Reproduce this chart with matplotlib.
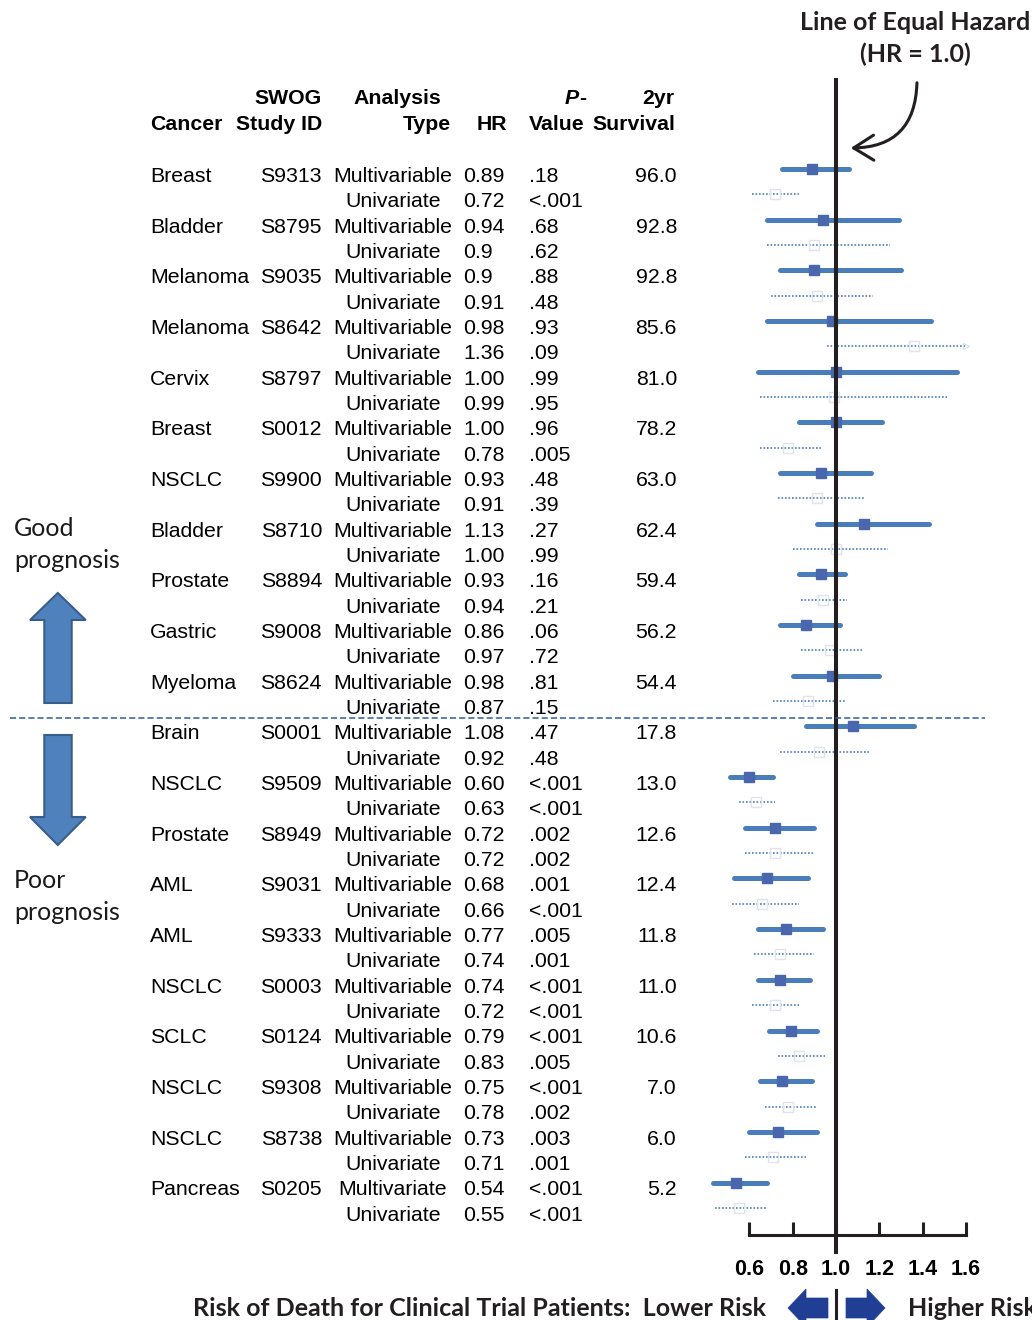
import matplotlib
matplotlib.use("Agg")
import matplotlib.pyplot as plt
import matplotlib.transforms as mtransforms
from matplotlib.patches import Polygon, FancyArrowPatch

plt.rcParams["font.family"] = ["Liberation Sans", "DejaVu Sans"]

# data, one entry per study (multivariable row, then univariate row)
cancers = ["Breast", "Bladder", "Melanoma", "Melanoma", "Cervix", "Breast", "NSCLC",
           "Bladder", "Prostate", "Gastric", "Myeloma", "Brain", "NSCLC", "Prostate",
           "AML", "AML", "NSCLC", "SCLC", "NSCLC", "NSCLC", "Pancreas"]
study_ids = ["S9313", "S8795", "S9035", "S8642", "S8797", "S0012", "S9900", "S8710",
             "S8894", "S9008", "S8624", "S0001", "S9509", "S8949", "S9031", "S9333",
             "S0003", "S0124", "S9308", "S8738", "S0205"]
survival_2yr = ["96.0", "92.8", "92.8", "85.6", "81.0", "78.2", "63.0", "62.4", "59.4",
                "56.2", "54.4", "17.8", "13.0", "12.6", "12.4", "11.8", "11.0", "10.6",
                "7.0", "6.0", "5.2"]
multi_name = ["Multivariable"] * 20 + ["Multivariate"]
multi_hr = ["0.89", "0.94", "0.9", "0.98", "1.00", "1.00", "0.93", "1.13", "0.93", "0.86",
            "0.98", "1.08", "0.60", "0.72", "0.68", "0.77", "0.74", "0.79", "0.75", "0.73",
            "0.54"]
multi_p = [".18", ".68", ".88", ".93", ".99", ".96", ".48", ".27", ".16", ".06", ".81",
           ".47", "<.001", ".002", ".001", ".005", "<.001", "<.001", "<.001", ".003", "<.001"]
multi_lo = [0.75, 0.68, 0.74, 0.68, 0.64, 0.83, 0.74, 0.91, 0.83, 0.74, 0.80, 0.86, 0.51,
            0.58, 0.53, 0.64, 0.64, 0.69, 0.65, 0.60, 0.43]
multi_hi = [1.06, 1.29, 1.30, 1.44, 1.56, 1.21, 1.16, 1.43, 1.04, 1.02, 1.20, 1.36, 0.71,
            0.90, 0.87, 0.94, 0.88, 0.91, 0.89, 0.91, 0.68]
uni_hr = ["0.72", "0.9", "0.91", "1.36", "0.99", "0.78", "0.91", "1.00", "0.94", "0.97",
          "0.87", "0.92", "0.63", "0.72", "0.66", "0.74", "0.72", "0.83", "0.78", "0.71",
          "0.55"]
uni_p = ["<.001", ".62", ".48", ".09", ".95", ".005", ".39", ".99", ".21", ".72", ".15",
         ".48", "<.001", ".002", "<.001", ".001", "<.001", ".005", ".002", ".001", "<.001"]
uni_lo = [0.61, 0.68, 0.70, 0.96, 0.65, 0.65, 0.73, 0.80, 0.84, 0.84, 0.71, 0.74, 0.55,
          0.58, 0.52, 0.62, 0.61, 0.73, 0.67, 0.58, 0.44]
uni_hi = [0.83, 1.25, 1.17, 1.60, 1.51, 0.93, 1.13, 1.24, 1.05, 1.13, 1.04, 1.15, 0.72,
          0.90, 0.83, 0.90, 0.83, 0.95, 0.91, 0.86, 0.68]
ticks = [0.6, 0.8, 1.0, 1.2, 1.4, 1.6]

W, H = 1032, 1320
fig = plt.figure(figsize=(W / 100, H / 100), dpi=100)
# pixel coords of the reference (y from top)
P = mtransforms.Affine2D().scale(1 / W, -1 / H).translate(0, 1) + fig.transFigure

ax = fig.add_axes([706 / W, 1 - 1235 / H, 286 / W, 1155 / H])
ax.patch.set_alpha(0)
ax.set_xlim(0.40, 0.40 + 286 / 216.7)
ax.set_ylim(42.07, -3.51)
for s in ["left", "top", "right"]:
    ax.spines[s].set_visible(False)
ax.spines["bottom"].set_bounds(0.6, 1.6)
ax.spines["bottom"].set_linewidth(2.2)
ax.spines["bottom"].set_color("#231f20")
ax.set_yticks([])
ax.set_xticks(ticks)
ax.set_xticklabels([f"{t:.1f}" for t in ticks], fontweight="bold", fontsize=15.5)
ax.tick_params(axis="x", direction="in", length=9.5, width=2.2, color="#231f20", pad=17)

line_c = "#4a7ebb"
for k in range(len(cancers)):
    ym, yu = 2 * k, 2 * k + 1
    ax.plot([multi_lo[k], multi_hi[k]], [ym, ym], color=line_c, lw=3.6,
            solid_capstyle="round", zorder=2)
    ax.plot(float(multi_hr[k]), ym, marker="s", ms=7.6, color="#4a66ac", zorder=3)
    ax.plot([uni_lo[k], uni_hi[k]], [yu, yu], color=line_c, lw=1.2,
            linestyle=(0, (1, 1.1)), zorder=2)
    ax.plot(float(uni_hr[k]), yu, marker="s", ms=7, mfc="none", mec="#e0e3ee",
            mew=1, zorder=3)
ax.plot(uni_hi[3], 7, marker=">", ms=5, mfc="none", mec="#d4dbec", mew=0.8, zorder=3)

ax.axvline(1.0, ymin=-17 / 1155, ymax=1, color="#231f20", lw=2.9, zorder=5,
           clip_on=False)

# table
xt = mtransforms.blended_transform_factory(P, ax.transData)
fs = 15.3
for k in range(len(cancers)):
    yb = 2 * k + 0.51
    ax.text(150, yb, cancers[k], transform=xt, fontsize=fs, va="baseline")
    ax.text(322, yb, study_ids[k], transform=xt, fontsize=fs, va="baseline", ha="right")
    ax.text(393, yb, multi_name[k], transform=xt, fontsize=fs, va="baseline", ha="center")
    ax.text(463, yb, multi_hr[k], transform=xt, fontsize=fs, va="baseline")
    ax.text(529, yb, multi_p[k], transform=xt, fontsize=fs, va="baseline")
    ax.text(677, yb, survival_2yr[k], transform=xt, fontsize=fs, va="baseline", ha="right")
    yb = 2 * k + 1.51
    ax.text(393, yb, "Univariate", transform=xt, fontsize=fs, va="baseline", ha="center")
    ax.text(463, yb, uni_hr[k], transform=xt, fontsize=fs, va="baseline")
    ax.text(529, yb, uni_p[k], transform=xt, fontsize=fs, va="baseline")

hb = dict(transform=P, fontsize=fs, fontweight="bold", va="baseline")
fig.text(322, 104, "SWOG", ha="right", **hb)
fig.text(441, 104, "Analysis", ha="right", **hb)
fig.text(579, 104, "P", ha="right", fontstyle="italic", **hb)
fig.text(579, 104, "-", ha="left", **hb)
fig.text(674, 104, "2yr", ha="right", **hb)
fig.text(150, 130, "Cancer", ha="left", **hb)
fig.text(322, 130, "Study ID", ha="right", **hb)
fig.text(451, 130, "Type", ha="right", **hb)
fig.text(507, 130, "HR", ha="right", **hb)
fig.text(529, 130, "Value", ha="left", **hb)
fig.text(675, 130, "Survival", ha="right", **hb)

# separator between good and poor prognosis
fig.add_artist(plt.Line2D([10, 985], [718, 718], transform=P, color="#2e5c9a", lw=1.1,
                          linestyle=(0, (4, 2))))

# side labels and block arrows
side = dict(transform=P, fontsize=18, family=["Lato", "DejaVu Sans"], color="#1a1a1a",
            va="baseline")
fig.text(14, 536, "Good", **side)
fig.text(14, 568, "prognosis", **side)
fig.text(14, 888, "Poor", **side)
fig.text(14, 920, "prognosis", **side)
up = [(57.8, 593), (85.7, 620), (71.7, 620), (71.7, 703), (44.3, 703), (44.3, 620), (30, 620)]
down = [(44.3, 735), (71.7, 735), (71.7, 817), (85.7, 817), (57.8, 845), (30, 817), (44.3, 817)]
for pts in (up, down):
    fig.add_artist(Polygon(pts, closed=True, transform=P, facecolor="#4f81bd",
                           edgecolor="#385d8a", lw=1.5))

# line of equal hazard annotation
tb = dict(transform=P, fontsize=18, fontweight="bold", family=["Lato", "DejaVu Sans"],
          color="#231f20", ha="center", va="baseline")
fig.text(915, 30, "Line of Equal Hazard", **tb)
fig.text(915, 62, "(HR = 1.0)", **tb)
fig.add_artist(FancyArrowPatch((917, 80), (848, 148), transform=P,
                               connectionstyle="arc3,rad=-0.5",
                               arrowstyle="->,head_length=0.8,head_width=0.5",
                               mutation_scale=18, lw=2.2, color="#231f20"))

# bottom legend
bb = dict(transform=P, fontsize=18, fontweight="bold", family=["Lato", "DejaVu Sans"],
          color="#231f20", va="baseline")
fig.text(766, 1316, "Risk of Death for Clinical Trial Patients:  Lower Risk", ha="right", **bb)
fig.text(908, 1316, "Higher Risk", ha="left", **bb)
left_arrow = [(788, 1308), (806, 1289), (806, 1298), (828, 1298), (828, 1318),
              (806, 1318), (806, 1327)]
right_arrow = [(885, 1308), (867, 1289), (867, 1298), (846, 1298), (846, 1318),
               (867, 1318), (867, 1327)]
for pts in (left_arrow, right_arrow):
    fig.add_artist(Polygon(pts, closed=True, transform=P, facecolor="#203f94",
                           edgecolor="#203f94", lw=0.5))
fig.add_artist(plt.Line2D([836, 836], [1290, 1320], transform=P, color="#231f20", lw=2.2))

fig.savefig("out.png", dpi=100)
